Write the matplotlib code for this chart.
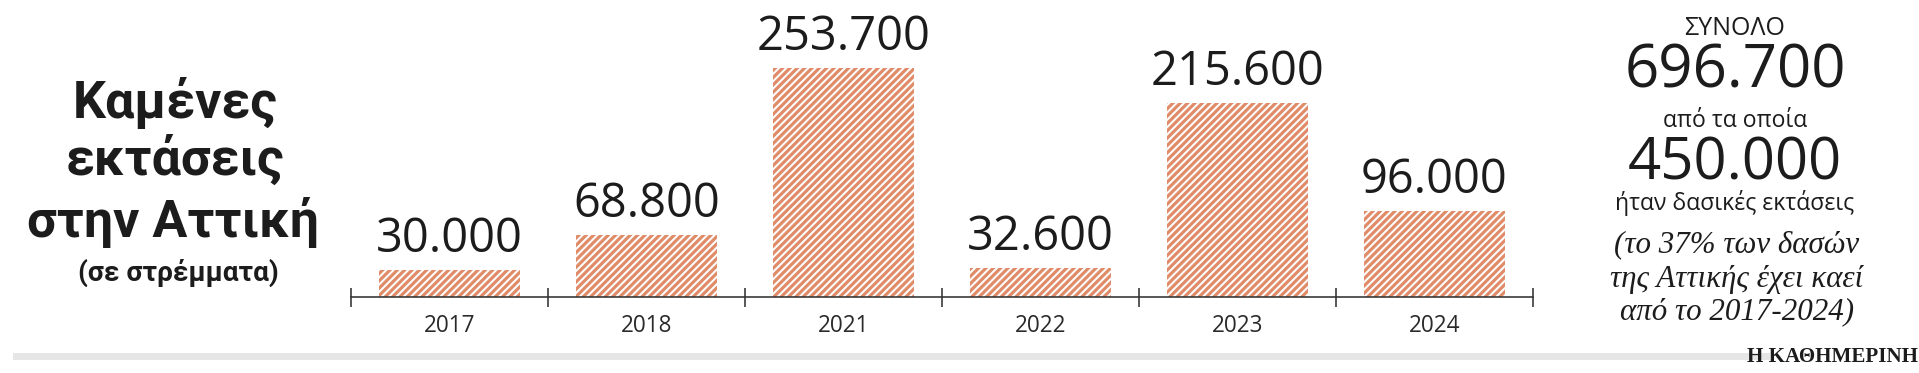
import matplotlib.pyplot as plt
from matplotlib.patches import Rectangle

# data
years = ['2017', '2018', '2021', '2022', '2023', '2024']
burned = [30000, 68800, 253700, 32600, 215600, 96000]
labels = ['30.000', '68.800', '253.700', '32.600', '215.600', '96.000']
total_label = '696.700'
forest_label = '450.000'

W, H, DPI = 1920, 373, 88
def pt(p):
    # pixels -> points at this dpi
    return p * 72 / DPI

plt.rcParams['font.family'] = ['Open Sans', 'DejaVu Sans']
plt.rcParams['hatch.linewidth'] = 2.6
bar_color = '#e08c69'
ink = '#1c1c1c'

fig = plt.figure(figsize=(W / DPI, H / DPI), dpi=DPI)
fig.patch.set_facecolor('white')

# axes: x from 351 to 1533 px, baseline at y=297 px
ax = fig.add_axes([351 / W, (H - 297) / H, 1182 / W, 297 / H])
ax.bar(range(len(years)), burned, width=0.72, color='white',
       edgecolor=bar_color, linewidth=0, hatch='////')
ax.set_xlim(-0.5, len(years) - 0.5)
ax.set_ylim(0, 297 * 1110)

for i, (v, lab) in enumerate(zip(burned, labels)):
    ax.annotate(lab, (i, v), xytext=(0, pt(18)), textcoords='offset points',
                ha='center', va='baseline', fontsize=pt(47), color=ink)

for s in ['top', 'left', 'right']:
    ax.spines[s].set_visible(False)
ax.spines['bottom'].set_color('#333333')
ax.spines['bottom'].set_linewidth(pt(1.6))
ax.set_yticks([])
ax.set_xticks(range(len(years)))
ax.set_xticklabels(years, fontsize=pt(22.5), color='#2a2a2a')
ax.tick_params(axis='x', which='major', length=0, pad=pt(17))
ax.set_xticks([i - 0.5 for i in range(len(years) + 1)], minor=True)
ax.tick_params(axis='x', which='minor', direction='inout', length=pt(19),
               width=pt(1.6), color='#333333')
ax.patch.set_alpha(0)

def ftext(x, y, s, **kw):
    fig.text(x / W, 1 - y / H, s, **kw)

# title block
title = dict(ha='center', va='baseline', fontsize=pt(52), fontweight='bold',
             color=ink, family=['Roboto', 'DejaVu Sans'])
ftext(175, 118, 'Καμένες', **title)
ftext(175, 175, 'εκτάσεις', **title)
ftext(173, 237, 'στην Αττική', **title)
ftext(178, 281, '(σε στρέμματα)', ha='center', va='baseline', fontsize=pt(28),
      fontweight='bold', color=ink, family=['Roboto', 'DejaVu Sans'])

# right panel
cx = 1735
ftext(cx, 35, 'ΣΥΝΟΛΟ', ha='center', va='baseline', fontsize=pt(25), color=ink)
ftext(cx, 88, total_label, ha='center', va='baseline', fontsize=pt(60), color=ink)
ftext(cx, 127, 'από τα οποία', ha='center', va='baseline', fontsize=pt(23), color=ink)
ftext(cx, 179, forest_label, ha='center', va='baseline', fontsize=pt(58), color=ink)
ftext(cx, 210, 'ήταν δασικές εκτάσεις', ha='center', va='baseline', fontsize=pt(23),
      color=ink)
serif = dict(ha='center', va='baseline', fontsize=pt(31), color=ink,
             family='Liberation Serif', style='italic')
ftext(1737, 252, '(το 37% των δασών', **serif)
ftext(1737, 287, 'της Αττικής έχει καεί', **serif)
ftext(1737, 319, 'από το 2017-2024)', **serif)

# footer
fig.add_artist(Rectangle((13 / W, 1 - 360 / H), (1770 - 13) / W, 7 / H,
                         transform=fig.transFigure, color='#e6e6e6', lw=0))
ftext(1918, 362, 'Η ΚΑΘΗΜΕΡΙΝΗ', ha='right', va='baseline', fontsize=pt(21),
      family=['DejaVu Serif Condensed', 'Liberation Serif'], fontweight='bold',
      color=ink)

fig.savefig('out.png', dpi=DPI)
